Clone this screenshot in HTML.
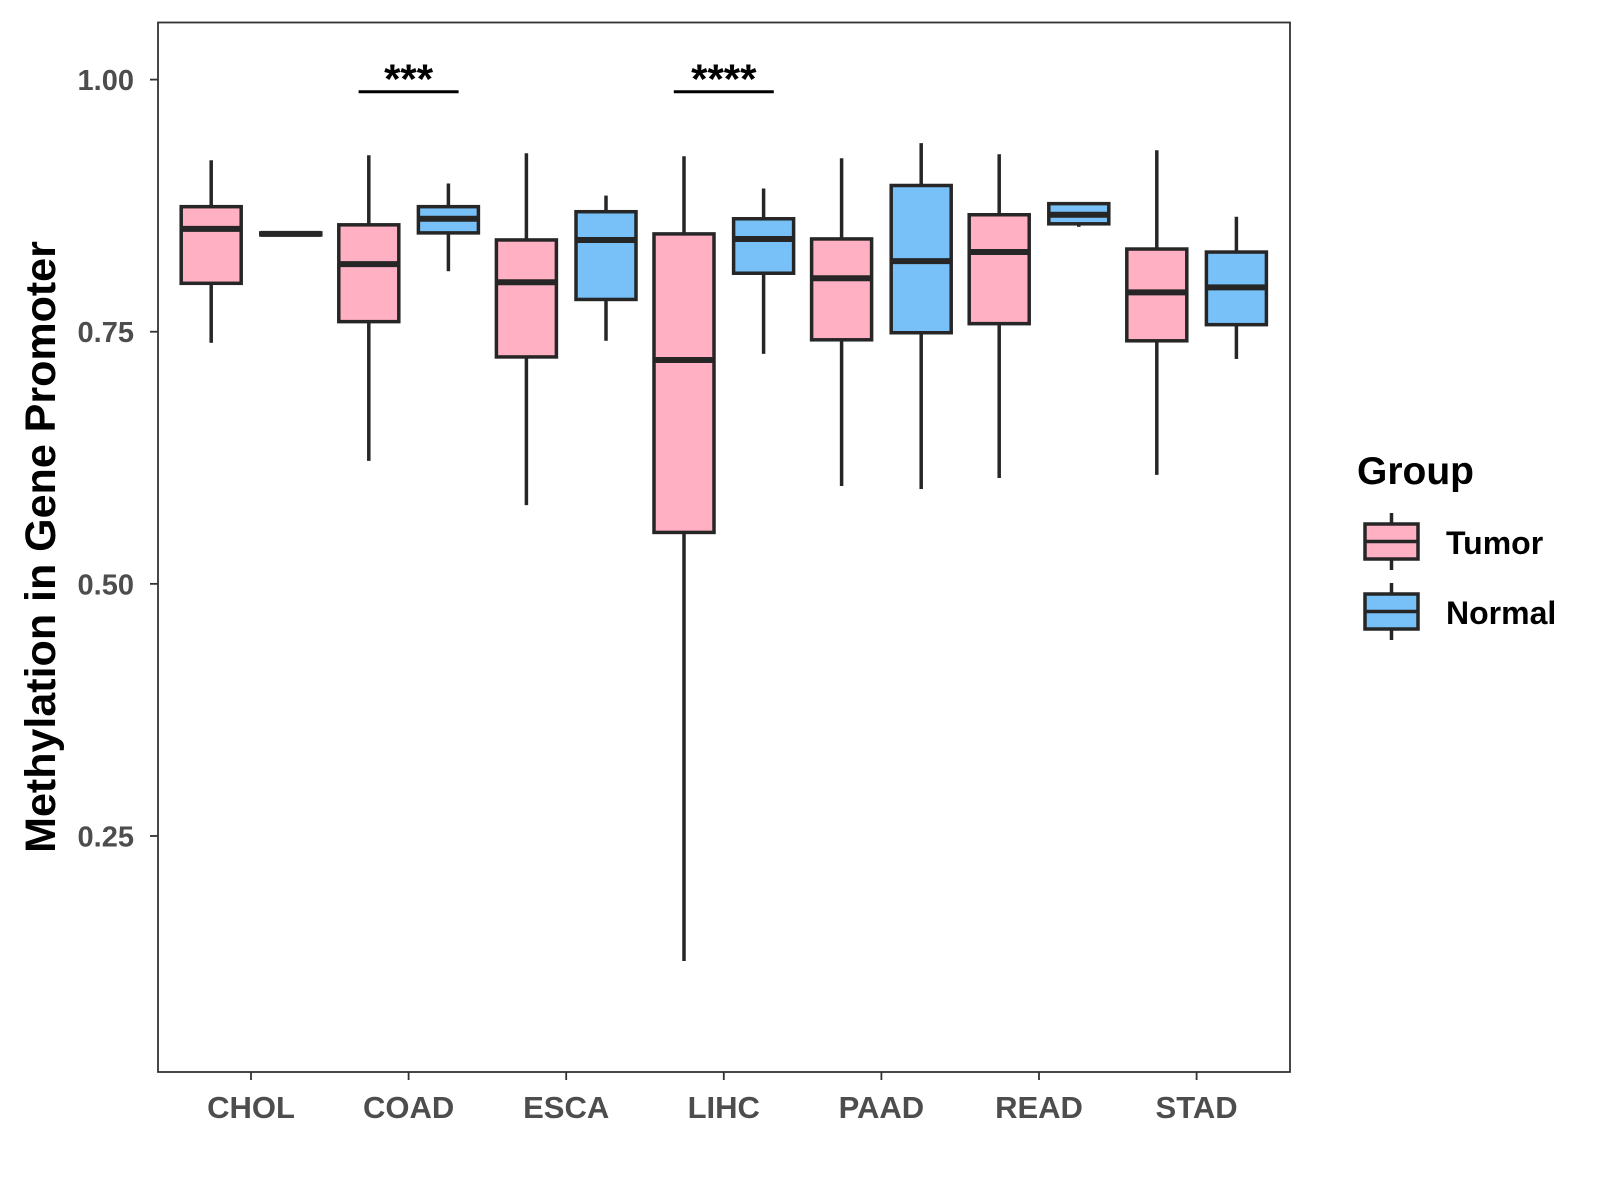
<!DOCTYPE html>
<html><head><meta charset="utf-8"><style>
html,body{margin:0;padding:0;background:#fff;width:1600px;height:1200px;overflow:hidden}
svg{display:block;font-family:"Liberation Sans",Arial,sans-serif}
</style></head><body>
<svg id="chart" width="1600" height="1200" viewBox="0 0 1600 1200">
<rect x="0" y="0" width="1600" height="1200" fill="#fff"/>
<g id="plot"></g>
<text transform="translate(55,547) rotate(-90)" text-anchor="middle" font-size="43" font-weight="bold" fill="#000">Methylation in Gene Promoter</text>
<g>
<text x="1357" y="484" font-size="39" font-weight="bold" fill="#000">Group</text>
<g>
<line x1="1391.5" y1="513" x2="1391.5" y2="570" stroke="#262626" stroke-width="3.5"/>
<rect x="1365" y="524" width="53" height="35" fill="#FFB0C3" stroke="#262626" stroke-width="3.5"/>
<line x1="1365" y1="541.5" x2="1418" y2="541.5" stroke="#262626" stroke-width="3.5"/>
<text x="1446" y="554" font-size="32" font-weight="bold" fill="#000">Tumor</text>
</g>
<g>
<line x1="1391.5" y1="583" x2="1391.5" y2="640" stroke="#262626" stroke-width="3.5"/>
<rect x="1365" y="594" width="53" height="35" fill="#78C1F8" stroke="#262626" stroke-width="3.5"/>
<line x1="1365" y1="611.5" x2="1418" y2="611.5" stroke="#262626" stroke-width="3.5"/>
<text x="1446" y="624" font-size="32" font-weight="bold" fill="#000">Normal</text>
</g>
</g>
</svg>
<script>
const categories = ["CHOL","COAD","ESCA","LIHC","PAAD","READ","STAD"];
// [low, q1, median, q3, high]
const tumorStats = [
 [0.739,0.798,0.852,0.874,0.920],
 [0.622,0.760,0.817,0.856,0.925],
 [0.578,0.725,0.799,0.841,0.927],
 [0.126,0.551,0.722,0.847,0.924],
 [0.597,0.742,0.803,0.842,0.922],
 [0.605,0.758,0.829,0.866,0.926],
 [0.608,0.741,0.789,0.832,0.930]
];
const normalStats = [
 [0.846,0.846,0.847,0.848,0.849],
 [0.810,0.848,0.862,0.874,0.897],
 [0.741,0.782,0.841,0.869,0.885],
 [0.728,0.808,0.842,0.862,0.892],
 [0.594,0.749,0.820,0.895,0.937],
 [0.854,0.857,0.866,0.877,0.878],
 [0.723,0.757,0.794,0.829,0.864]
];
const yTicks = [0.25,0.50,0.75,1.00];
const yTickLabels = ["0.25","0.50","0.75","1.00"];
const sigCategories = ["COAD","LIHC"];
const sigLabels = ["***","****"];
const sigLevel = 0.988;

const NS="http://www.w3.org/2000/svg";
const P={l:158,t:22.5,r:1290,b:1072};
function yS(v){return 79.6+(1-v)*1008.5;}
function xS(i){return 251+157.6*i;}
const dodge=39.8, bw=60;
const g=document.getElementById('plot');
function mk(tag,attrs,parent){const e=document.createElementNS(NS,tag);for(const k in attrs)e.setAttribute(k,attrs[k]);(parent||g).appendChild(e);return e;}

const frame=mk('rect',{x:P.l,y:P.t,width:P.r-P.l,height:P.b-P.t,fill:'none',stroke:'#333',"stroke-width":1.8});



yTicks.forEach((v,i)=>{
 const t=mk('line',{x1:P.l-8,x2:P.l,y1:yS(v),y2:yS(v),stroke:'#333',"stroke-width":1.8});
 
 
 const l=mk('text',{x:P.l-24,y:yS(v)+10.5,"text-anchor":"end","font-size":29,"font-weight":"bold",fill:"#4d4d4d"});
 l.textContent=yTickLabels[i];
 
 
});
categories.forEach((c,i)=>{
 const t=mk('line',{x1:xS(i),x2:xS(i),y1:P.b,y2:P.b+8,stroke:'#333',"stroke-width":1.8});
 
 
 const l=mk('text',{x:xS(i),y:P.b+46,"text-anchor":"middle","font-size":31,"font-weight":"bold",fill:"#4d4d4d"});
 l.textContent=c;
 
 
});
function box(cx,s,fill,name){
 const grp=mk('g',{});
 
 
 mk('line',{x1:cx,x2:cx,y1:yS(s[4]),y2:yS(s[3]),stroke:'#262626',"stroke-width":3.5},grp);
 mk('line',{x1:cx,x2:cx,y1:yS(s[1]),y2:yS(s[0]),stroke:'#262626',"stroke-width":3.5},grp);
 mk('rect',{x:cx-bw/2,y:yS(s[3]),width:bw,height:Math.max(0.5,yS(s[1])-yS(s[3])),fill:fill,stroke:'#262626',"stroke-width":3.5},grp);
 mk('line',{x1:cx-bw/2,x2:cx+bw/2,y1:yS(s[2]),y2:yS(s[2]),stroke:'#262626',"stroke-width":6},grp);
}
categories.forEach((c,i)=>{
 box(xS(i)-dodge,tumorStats[i],'#FFB0C3','box-tumor-'+c.toLowerCase());
 box(xS(i)+dodge,normalStats[i],'#78C1F8','box-normal-'+c.toLowerCase());
});
sigCategories.forEach((c,j)=>{
 const i=categories.indexOf(c);
 const ln=mk('line',{x1:xS(i)-50,x2:xS(i)+50,y1:yS(sigLevel),y2:yS(sigLevel),stroke:'#000',"stroke-width":3});
 
 
 const t=mk('text',{x:xS(i),y:yS(sigLevel)+2,"text-anchor":"middle","font-size":42,"font-weight":"bold",fill:"#000"});
 t.textContent=sigLabels[j];
 
 
});
</script>
</body></html>
